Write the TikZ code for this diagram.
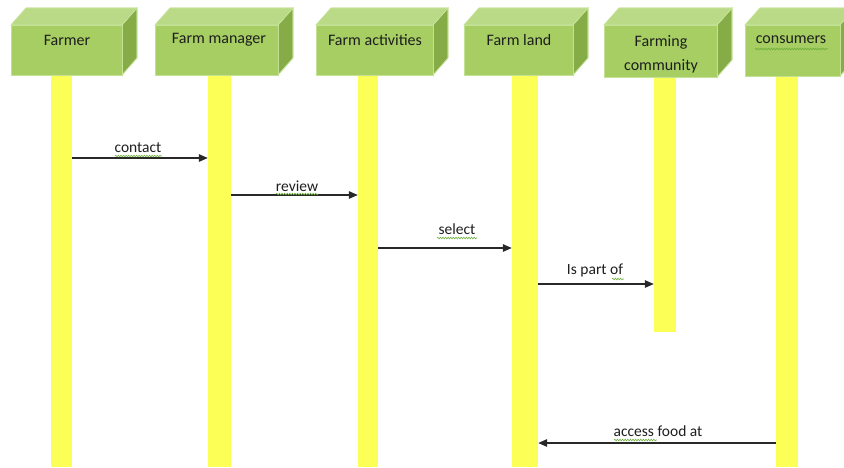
\documentclass[tikz,border=0pt]{standalone}
\usepackage{fontspec}
\setmainfont{Carlito}
\usetikzlibrary{arrows.meta,decorations.pathmorphing}

\definecolor{frontgreen}{RGB}{166,206,98}
\definecolor{topgreen}{RGB}{186,218,136}
\definecolor{sidegreen}{RGB}{134,172,72}
\definecolor{edgegreen}{RGB}{196,226,150}
\definecolor{lifeyellow}{RGB}{252,255,85}
\definecolor{msgline}{RGB}{40,40,40}
\definecolor{textdark}{RGB}{30,30,30}
\definecolor{squiggle}{RGB}{110,175,60}

\tikzset{
  boxfront/.style={draw=edgegreen, line width=0.6pt, fill=frontgreen},
  boxtop/.style={draw=edgegreen, line width=0.6pt, fill=topgreen},
  boxside/.style={draw=edgegreen, line width=0.6pt, fill=sidegreen},
  boxtext/.style={font=\fontsize{16}{19}\selectfont, text=textdark, inner sep=0pt},
  lifeline/.style={fill=lifeyellow, draw=none, inner sep=0pt, anchor=north},
  message/.style={draw=msgline, line width=1.3pt, -{Triangle[length=9pt,width=7.5pt]}},
  msglabel/.style={font=\fontsize{15.5}{18}\selectfont, text=textdark, inner sep=0pt},
  spellmark/.style={draw=squiggle, line width=0.6pt,
    decorate, decoration={snake, amplitude=0.8pt, segment length=2.6pt}}
}

% one participant head: a box with a top and a right face
% #1 name, #2 left x, #3 right x, #4 bottom y
\newcommand{\participant}[4]{%
  \fill[boxtop] (#2,25) -- (#2+15,8) -- (#3+15,8) -- (#3,25) -- cycle;
  \fill[boxside] (#3,25) -- (#3+15,8) -- (#3+15,#4-17) -- (#3,#4) -- cycle;
  \draw[boxtop,fill=none] (#2,25) -- (#2+15,8) -- (#3+15,8) -- (#3,25) -- cycle;
  \draw[boxside,fill=none] (#3,25) -- (#3+15,8) -- (#3+15,#4-17) -- (#3,#4) -- cycle;
  \path[boxfront] (#2,25) rectangle (#3,#4);
  \coordinate (#1) at ({(#2+#3)/2},25);
}

\begin{document}
\begin{tikzpicture}[x=1pt,y=-1pt]
  \useasboundingbox (0,0) rectangle (844,467);
  \clip (0,0) rectangle (844,467);

  % lifelines
  \node[lifeline, minimum width=21pt, minimum height=392pt] (L1) at (61.5,75) {};
  \node[lifeline, minimum width=23pt, minimum height=392pt] (L2) at (219.5,75) {};
  \node[lifeline, minimum width=20pt, minimum height=392pt] (L3) at (368,75) {};
  \node[lifeline, minimum width=26pt, minimum height=392pt] (L4) at (525,75) {};
  \node[lifeline, minimum width=22pt, minimum height=257pt] (L5) at (665,75) {};
  \node[lifeline, minimum width=22pt, minimum height=392pt] (L6) at (787,75) {};

  % participant heads
  \participant{P1}{11}{122}{75}
  \participant{P2}{155}{278}{75}
  \participant{P3}{316}{433}{75}
  \participant{P4}{464}{573}{75}
  \participant{P5}{604}{717}{77}
  \participant{P6}{745}{840}{76}

  \node[boxtext] (T1) at (67,40) {Farmer};
  \node[boxtext] (T2) at (219,40) {Farm manager};
  \node[boxtext] (T3) at (375,40) {Farm activities};
  \node[boxtext] (T4) at (519,40) {Farm land};
  \node[boxtext] (T5a) at (661,42) {Farming};
  \node[boxtext] (T5b) at (661,66) {community};
  \node[boxtext] (T6) at (791,40) {consumers};

  % messages
  \draw[message] (L1.east |- 0,158) -- (L2.west |- 0,158);
  \draw[message] (L2.east |- 0,195) -- (L3.west |- 0,195);
  \draw[message] (L3.east |- 0,248) -- (L4.west |- 0,248);
  \draw[message] (L4.east |- 0,284) -- (L5.west |- 0,284);
  \draw[message] (L6.west |- 0,443) -- (L4.east |- 0,443);

  \node[msglabel] (M1) at (138,148) {contact};
  \node[msglabel] (M2) at (297,186) {review};
  \node[msglabel] (M3) at (457,229) {select};
  \node[msglabel] (M4) at (595,270) {Is part of};
  \node[msglabel] (M5) at (658,431) {access food at};

  % spelling marks under some words
  \path[spellmark] (115,156) -- (162,156);
  \path[spellmark] (276,194) -- (318,194);
  \path[spellmark] (437,238) -- (477,238);
  \path[spellmark] (612,279) -- (624,279);
  \path[spellmark] (614,440) -- (657,440);
  \path[spellmark] (755,49) -- (828,49);
\end{tikzpicture}
\end{document}
